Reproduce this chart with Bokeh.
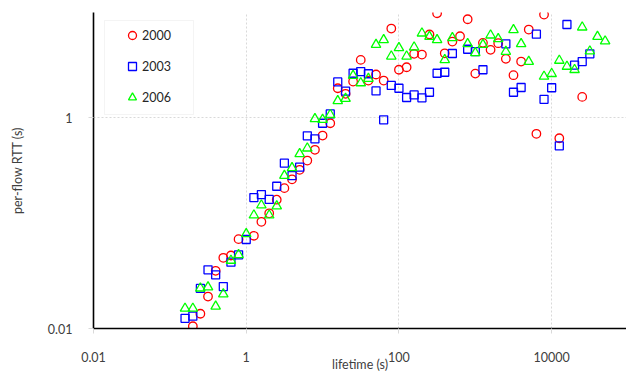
from bokeh.plotting import figure
from bokeh.models import (CustomJSTickFormatter, Legend, LegendItem,
                          BoxAnnotation)
from bokeh.embed import file_html
from bokeh.resources import INLINE

# ---------------- data ----------------
lifetime_2000 = [0.2, 0.251, 0.316, 0.398, 0.501, 0.631, 0.794, 1.26, 1.58, 2.0,
                 2.51, 3.16, 3.98, 5.01, 6.31, 7.94, 10, 12.6, 15.8, 20,
                 25.1, 31.6, 39.8, 50.1, 63.1, 79.4, 100, 126, 158, 200,
                 251, 316, 398, 501, 631, 794, 1000, 1259, 1585, 1995,
                 2512, 3162, 3981, 5012, 6310, 7943, 12589, 25119]
rtt_2000 = [0.0105, 0.0138, 0.0201, 0.0353, 0.0469, 0.0493, 0.0705, 0.0759, 0.103, 0.124,
            0.167, 0.215, 0.261, 0.321, 0.393, 0.497, 0.679, 0.888, 1.91, 1.69,
            2.21, 3.55, 2.26, 2.58, 2.26, 7.04, 2.86, 3.02, 4.05, 3.99,
            6.18, 9.84, 4.10, 5.30, 5.95, 8.63, 2.63, 5.15, 4.42, 5.11,
            3.63, 2.54, 3.42, 6.89, 0.705, 9.56, 0.640, 1.58]

lifetime_2003 = [0.158, 0.2, 0.251, 0.316, 0.398, 0.501, 0.631, 0.794, 1.0, 1.26,
                 1.58, 2.0, 2.51, 3.16, 3.98, 5.01, 6.31, 7.94, 10, 12.6,
                 15.8, 20, 25.1, 31.6, 39.8, 50.1, 63.1, 79.4, 100, 126,
                 158, 200, 251, 316, 398, 501, 794, 1000, 1259, 2512,
                 3162, 3981, 6310, 7943, 10000, 12589, 15849, 19953, 25119, 31623]
rtt_2003 = [0.0125, 0.0131, 0.0240, 0.0361, 0.0323, 0.0250, 0.0426, 0.0501, 0.070, 0.175,
            0.187, 0.168, 0.224, 0.371, 0.283, 0.340, 0.675, 0.632, 0.888, 1.09,
            2.19, 1.79, 2.65, 2.75, 2.62, 1.80, 0.957, 2.03, 1.91, 1.56,
            1.65, 1.55, 1.75, 2.65, 2.71, 4.08, 4.48, 4.26, 2.86, 5.04,
            1.75, 1.94, 6.22, 1.50, 1.93, 0.542, 7.69, 3.16, 3.42, 4.05]

lifetime_2006 = [0.158, 0.2, 0.251, 0.316, 0.398, 0.501, 0.631, 0.794, 1.0, 1.26,
                 1.58, 2.0, 2.51, 3.16, 3.98, 5.01, 6.31, 7.94, 10, 12.6,
                 15.8, 20, 25.1, 31.6, 39.8, 50.1, 63.1, 79.4, 100, 126,
                 158, 200, 251, 316, 398, 501, 794, 1000, 1259, 1585,
                 1995, 2512, 3162, 3981, 5012, 7943, 10000, 12589, 15849, 19953,
                 25119, 31623, 39811, 50119]
rtt_2006 = [0.0155, 0.0155, 0.0241, 0.0247, 0.0162, 0.0212, 0.0442, 0.0501, 0.0792, 0.119,
            0.148, 0.119, 0.145, 0.283, 0.335, 0.455, 0.514, 0.978, 0.963, 1.07,
            1.45, 1.52, 2.52, 2.14, 2.36, 4.96, 5.50, 3.84, 4.62, 3.84,
            4.68, 6.35, 5.91, 5.50, 3.55, 5.74, 5.04, 4.14, 4.96, 6.08,
            5.62, 4.26, 6.84, 5.04, 3.42, 2.47, 2.62, 3.50, 3.07, 2.86,
            7.24, 4.29, 5.91, 5.34]

series_labels = ["2000", "2003", "2006"]
x_ticks = [0.01, 1, 100, 10000]
y_ticks = [0.01, 1, 100]

# ---------------- styling ----------------
FONT = "Lato"
TICK_COLOR = "#404040"
GRID_COLOR = "#d9d9d9"

p = figure(width=626, height=374, x_axis_type="log", y_axis_type="log",
           x_range=(0.01, 10 ** 4.98), y_range=(0.01, 10),
           output_backend="svg", toolbar_location=None,
           min_border_left=93, min_border_right=0,
           min_border_top=12, min_border_bottom=46)
p.outline_line_color = None
p.background_fill_color = "white"
p.border_fill_color = "white"

r2000 = p.scatter(lifetime_2000, rtt_2000, marker="circle", size=8.5,
                  fill_color=None, line_color="#FF0000", line_width=1.3)
r2003 = p.scatter(lifetime_2003, rtt_2003, marker="square", size=8,
                  fill_color=None, line_color="#0000FF", line_width=1.3)
r2006 = p.scatter(lifetime_2006, rtt_2006, marker="triangle", size=9.5,
                  fill_color=None, line_color="#00FF00", line_width=1.3)

fmt = "return tick.toString()"
p.xaxis.ticker = x_ticks
p.yaxis.ticker = y_ticks
for ax in (p.xaxis, p.yaxis):
    ax.formatter = CustomJSTickFormatter(code=fmt)
    ax.axis_line_color = "black"
    ax.axis_line_width = 1.6
    ax.major_tick_line_color = GRID_COLOR
    ax.major_tick_out = 5
    ax.major_tick_in = 0
    ax.minor_tick_line_color = None
    ax.major_label_text_font = FONT
    ax.major_label_text_font_size = "12.5px"
    ax.major_label_text_color = TICK_COLOR
    ax.axis_label_text_font = FONT
    ax.axis_label_text_font_size = "12.5px"
    ax.axis_label_text_font_style = "normal"
    ax.axis_label_text_color = TICK_COLOR
p.xaxis.major_label_standoff = 18
p.yaxis.major_label_standoff = 16
p.yaxis.axis_label = "per-flow RTT (s)"
p.yaxis.axis_label_standoff = 20
p.xaxis.axis_label = "lifetime (s)"
p.xaxis.axis_label_standoff = -8

for g in (p.xgrid, p.ygrid):
    g.grid_line_color = GRID_COLOR
    g.grid_line_dash = "2 2"
    g.grid_line_width = 1

legend_box = BoxAnnotation(left=11, right=100, bottom=214, top=308,
                           left_units="screen", right_units="screen",
                           bottom_units="screen", top_units="screen",
                           fill_color="white", fill_alpha=1,
                           line_color=GRID_COLOR, line_width=1)
p.add_layout(legend_box)

legend = Legend(items=[LegendItem(label=series_labels[0], renderers=[r2000]),
                       LegendItem(label=series_labels[1], renderers=[r2003]),
                       LegendItem(label=series_labels[2], renderers=[r2006])],
                location=(29, 221), padding=6, spacing=11, margin=0,
                glyph_width=20, glyph_height=20, label_height=20,
                label_standoff=0,
                label_text_font=FONT, label_text_font_size="12.5px",
                label_text_color="#262626",
                border_line_color=None, background_fill_alpha=0)
p.add_layout(legend)

open("out.html", "w").write(file_html(p, INLINE))
